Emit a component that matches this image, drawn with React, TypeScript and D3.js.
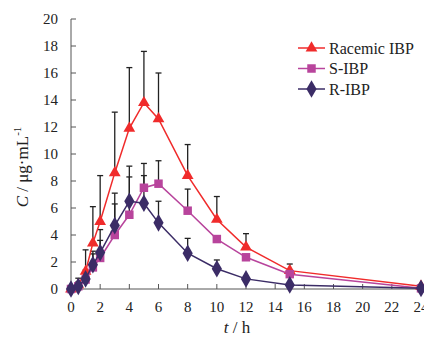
import React from "react";
import * as d3 from "d3";

// sampling times (h)
const times = [0, 0.5, 1, 1.5, 2, 3, 4, 5, 6, 8, 10, 12, 15, 24];

// mean concentrations (ug/mL)
const racemic = [0, 0.3, 1.3, 3.4, 5.0, 8.6, 11.9, 13.8, 12.6, 8.4, 5.15, 3.1, 1.36, 0.2];
const sIbp = [0, 0.2, 0.7, 1.6, 2.3, 4.0, 5.5, 7.5, 7.8, 5.8, 3.7, 2.35, 1.1, 0.05];
const rIbp = [0, 0.2, 0.75, 1.8, 2.7, 4.7, 6.5, 6.35, 4.9, 2.65, 1.5, 0.75, 0.3, 0.05];

// upper end of the error bars (mean + SD)
const racemicTop = [0, 0.8, 2.9, 6.1, 8.4, 13.1, 16.4, 17.6, 16.0, 10.7, 6.85, 4.1, 1.85, 0.2];
const sTop = [0, 0.5, 1.4, 2.6, 3.6, 6.3, 8.3, 9.3, 9.5, 7.4, 3.7, 2.35, 1.1, 0.05];
const rTop = [0, 0.5, 1.2, 2.8, 4.4, 7.1, 9.1, 8.4, 6.5, 3.75, 2.15, 0.9, 0.3, 0.05];

const xTicks = [0, 2, 4, 6, 8, 10, 12, 14, 16, 18, 20, 22, 24];
const yTicks = [0, 2, 4, 6, 8, 10, 12, 14, 16, 18, 20];

const seriesNames = ["Racemic IBP", "S-IBP", "R-IBP"];

const font = "'Liberation Serif', 'Times New Roman', serif";

export default function App() {
  const width = 424;
  const height = 340;
  const x = d3.scaleLinear().domain([0, 24]).range([71, 421]);
  const y = d3.scaleLinear().domain([0, 20]).range([289, 19]);

  const series = [
    { name: seriesNames[0], values: racemic, tops: racemicTop, color: "#f02b2b", shape: d3.symbolTriangle, size: 60 },
    { name: seriesNames[1], values: sIbp, tops: sTop, color: "#b8449c", shape: d3.symbolSquare, size: 72 },
    { name: seriesNames[2], values: rIbp, tops: rTop, color: "#3b2c66", shape: d3.symbolDiamond, size: 90 },
  ];

  const line = d3
    .line<number>()
    .x((_, i) => x(times[i]))
    .y((d) => y(d));

  const axisColor = "#555";

  return (
    <svg
      width={width}
      height={height}
      style={{ position: "absolute", left: 0, top: 0, background: "#fff" }}
      fontFamily={font}
    >
      {/* error bars drawn first */}
      {series.map((s) => (
        <g key={s.name + "-err"} stroke="#222" strokeWidth={1.3}>
          {s.values.map((v, i) =>
            s.tops[i] - v > 0.05 ? (
              <g key={i}>
                <line x1={x(times[i])} x2={x(times[i])} y1={y(v)} y2={y(s.tops[i])} />
                <line x1={x(times[i]) - 3} x2={x(times[i]) + 3} y1={y(s.tops[i])} y2={y(s.tops[i])} />
              </g>
            ) : null
          )}
        </g>
      ))}

      {/* axes */}
      <g stroke={axisColor} strokeWidth={1}>
        <line x1={71} x2={71} y1={y(20)} y2={y(0)} />
        <line x1={71} x2={x(24)} y1={y(0)} y2={y(0)} />
        {yTicks.map((t) => (
          <line key={"yt" + t} x1={71} x2={76} y1={y(t)} y2={y(t)} />
        ))}
        {xTicks.map((t) => (
          <line key={"xt" + t} x1={x(t)} x2={x(t)} y1={y(0)} y2={y(0) - 5} />
        ))}
      </g>

      {/* lines and markers */}
      {series.map((s) => (
        <g key={s.name}>
          <path d={line(s.values) ?? ""} fill="none" stroke={s.color} strokeWidth={1.5} />
          {s.values.map((v, i) => (
            <path
              key={i}
              d={d3.symbol().type(s.shape).size(s.size)() ?? ""}
              transform={`translate(${x(times[i])},${y(v)})`}
              fill={s.color}
            />
          ))}
        </g>
      ))}

      {/* tick labels */}
      <g fontSize={15} fill="#222">
        {yTicks.map((t) => (
          <text key={"yl" + t} x={58} y={y(t) + 5} textAnchor="end">
            {t}
          </text>
        ))}
        {xTicks.map((t) => (
          <text key={"xl" + t} x={x(t)} y={312} textAnchor="middle">
            {t}
          </text>
        ))}
      </g>

      {/* axis titles */}
      <text x={237} y={333} fontSize={17} textAnchor="middle" fill="#222">
        <tspan fontStyle="italic">t</tspan> / h
      </text>
      <text transform="translate(28,167) rotate(-90)" fontSize={17} textAnchor="middle" fill="#222">
        <tspan fontStyle="italic">C</tspan> / μg·mL
        <tspan dy={-7} fontSize={11}>-1</tspan>
      </text>

      {/* legend */}
      {series.map((s, i) => {
        const ly = 48 + i * 20.5;
        return (
          <g key={s.name + "-leg"}>
            <line x1={298} x2={325} y1={ly} y2={ly} stroke={s.color} strokeWidth={1.5} />
            <path
              d={d3.symbol().type(s.shape).size(s.size)() ?? ""}
              transform={`translate(311.5,${ly})`}
              fill={s.color}
            />
            <text x={329} y={ly + 5.5} fontSize={16} fill="#222">
              {s.name}
            </text>
          </g>
        );
      })}
    </svg>
  );
}
